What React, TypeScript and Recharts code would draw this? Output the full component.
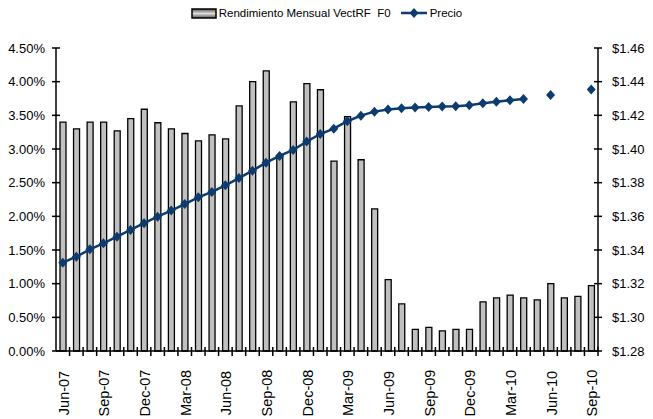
import React from "react";
import { Bar, ComposedChart, Legend, Line, XAxis, YAxis } from "recharts";

const months = [
  "Jun-07", "Jul-07", "Aug-07", "Sep-07", "Oct-07", "Nov-07", "Dec-07", "Jan-08",
  "Feb-08", "Mar-08", "Apr-08", "May-08", "Jun-08", "Jul-08", "Aug-08", "Sep-08",
  "Oct-08", "Nov-08", "Dec-08", "Jan-09", "Feb-09", "Mar-09", "Apr-09", "May-09",
  "Jun-09", "Jul-09", "Aug-09", "Sep-09", "Oct-09", "Nov-09", "Dec-09", "Jan-10",
  "Feb-10", "Mar-10", "Apr-10", "May-10", "Jun-10", "Jul-10", "Aug-10", "Sep-10",
];

// monthly return, in percent
const rendimiento = [
  3.4, 3.3, 3.4, 3.4, 3.27, 3.45, 3.59, 3.39, 3.3, 3.23, 3.12, 3.21, 3.15, 3.64,
  4.0, 4.16, 2.9, 3.7, 3.97, 3.88, 2.82, 3.48, 2.84, 2.11, 1.06, 0.7, 0.32, 0.35,
  0.3, 0.32, 0.32, 0.73, 0.79, 0.83, 0.79, 0.76, 1.0, 0.79, 0.81, 0.97,
];

// price, null where the source has no point
const precio: (number | null)[] = [
  1.3325, 1.336, 1.3404, 1.344, 1.3479, 1.3519, 1.3559, 1.3598, 1.3634, 1.3673,
  1.3713, 1.3745, 1.3784, 1.3827, 1.3871, 1.3919, 1.3959, 1.3994, 1.4044, 1.4089,
  1.4121, 1.4165, 1.4198, 1.4222, 1.4234, 1.4242, 1.4246, 1.425, 1.4252, 1.4254,
  1.426, 1.4272, 1.428, 1.4289, 1.4297, null, 1.4321, null, null, 1.4353,
];

const leftTicks = [0, 0.5, 1, 1.5, 2, 2.5, 3, 3.5, 4, 4.5];
const rightTicks = [1.28, 1.3, 1.32, 1.34, 1.36, 1.38, 1.4, 1.42, 1.44, 1.46];

const data = months.map((m, i) => ({ month: m, rend: rendimiento[i], precio: precio[i] }));

const NAVY = "#0b3b6f";
const FONT = "'Liberation Sans', Arial, sans-serif";
const HALF_BAND = 542 / months.length / 2;

function LeftTick({ x, y, payload }: any) {
  return (
    <g>
      <line x1={x - 4} x2={x + 4} y1={y} y2={y} stroke="#000" strokeWidth={1.5} />
      <text x={x - 11} y={y} textAnchor="end" dominantBaseline="central" fontSize={13} fontFamily={FONT} fill="#000">
        {payload.value.toFixed(2) + "%"}
      </text>
    </g>
  );
}

function RightTick({ x, y, payload }: any) {
  return (
    <g>
      <line x1={x - 4} x2={x + 4} y1={y} y2={y} stroke="#000" strokeWidth={1.5} />
      <text x={x + 14} y={y} textAnchor="start" dominantBaseline="central" fontSize={13} fontFamily={FONT} fill="#000">
        {"$" + payload.value.toFixed(2)}
      </text>
    </g>
  );
}

function MonthTick({ x, y, payload, index }: any) {
  const tx = x + HALF_BAND;
  return (
    <g>
      <line x1={tx} x2={tx} y1={y - 4} y2={y + 5} stroke="#000" strokeWidth={1.5} />
      {index % 3 === 0 && (
        <text
          transform={`translate(${x + 1},${y + 42}) rotate(-90)`}
          textAnchor="middle"
          dominantBaseline="central"
          fontSize={14.5}
          fontFamily={FONT}
          fill="#000"
        >
          {payload.value}
        </text>
      )}
    </g>
  );
}

function Diamond({ cx, cy, payload }: any) {
  if (payload.precio == null || cx == null || cy == null) return null;
  return <polygon points={`${cx},${cy - 5} ${cx + 4.5},${cy} ${cx},${cy + 5} ${cx - 4.5},${cy}`} fill={NAVY} />;
}

function LegendBox() {
  return (
    <div style={{ display: "flex", justifyContent: "center", alignItems: "center", height: 20, fontFamily: FONT, fontSize: 11.5, color: "#000" }}>
      <svg width={26} height={11} style={{ marginRight: 2 }}>
        <defs>
          <linearGradient id="sw" x1="0" y1="0" x2="0" y2="1">
            <stop offset="0" stopColor="#555" />
            <stop offset="0.5" stopColor="#ddd" />
            <stop offset="1" stopColor="#555" />
          </linearGradient>
        </defs>
        <rect x={1} y={1} width={24} height={9} fill="url(#sw)" stroke="#000" strokeWidth={1.5} />
      </svg>
      <span>Rendimiento Mensual VectRF&nbsp; F0</span>
      <svg width={26} height={12} style={{ marginLeft: 10, marginRight: 3 }}>
        <line x1={0} x2={26} y1={6} y2={6} stroke={NAVY} strokeWidth={2.5} />
        <polygon points="13,1 17.5,6 13,11 8.5,6" fill={NAVY} />
      </svg>
      <span>Precio</span>
    </div>
  );
}

export default function App() {
  return (
    <div style={{ position: "absolute", left: 0, top: 0, width: 653, height: 419, background: "#fff" }}>
      <ComposedChart width={653} height={419} data={data} margin={{ top: 28, right: 0, bottom: 0, left: 0 }} barCategoryGap={0}>
        <Legend verticalAlign="top" content={<LegendBox />} wrapperStyle={{ top: 3, left: 0, width: 653 }} />
        <XAxis
          dataKey="month"
          interval={0}
          height={68}
          tickSize={0}
          tickMargin={0}
          tickLine={false}
          axisLine={{ stroke: "#000", strokeWidth: 1.5 }}
          tick={<MonthTick />}
        />
        <YAxis
          yAxisId="left"
          width={56}
          domain={[0, 4.5]}
          ticks={leftTicks}
          tickSize={0}
          tickMargin={0}
          tickLine={false}
          axisLine={{ stroke: "#000", strokeWidth: 1.5 }}
          tick={<LeftTick />}
          interval={0}
        />
        <YAxis
          yAxisId="right"
          orientation="right"
          width={55}
          domain={[1.28, 1.46]}
          ticks={rightTicks}
          tickSize={0}
          tickMargin={0}
          tickLine={false}
          axisLine={{ stroke: "#000", strokeWidth: 1.5 }}
          tick={<RightTick />}
          interval={0}
        />
        <Bar yAxisId="left" dataKey="rend" barSize={6} fill="#c0c0c0" stroke="#000" strokeWidth={1.3} isAnimationActive={false} />
        <Line
          yAxisId="right"
          dataKey="precio"
          stroke={NAVY}
          strokeWidth={2.5}
          dot={<Diamond />}
          activeDot={false}
          connectNulls={false}
          isAnimationActive={false}
        />
      </ComposedChart>
    </div>
  );
}
